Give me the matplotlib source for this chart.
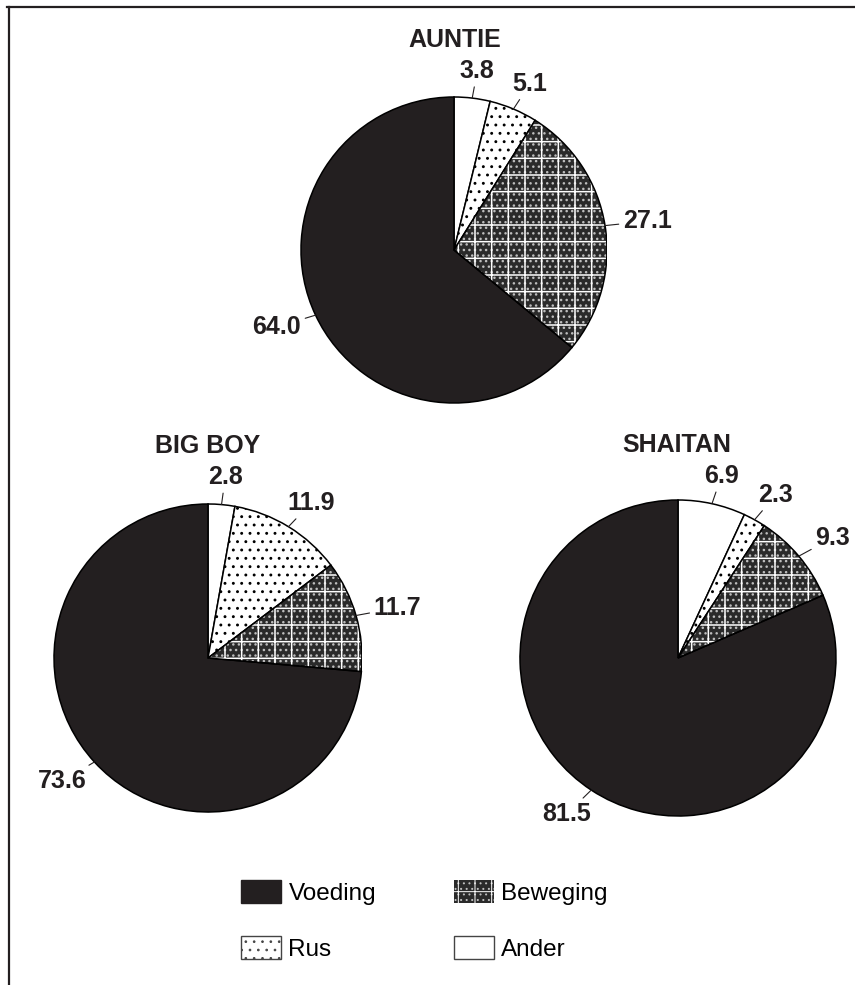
import matplotlib.pyplot as plt
import numpy as np
from matplotlib.patches import Wedge, Patch
from matplotlib.lines import Line2D

plt.rcParams['font.family'] = ['Liberation Sans', 'DejaVu Sans']
plt.rcParams['hatch.linewidth'] = 0.7

# slices run clockwise from 12 o'clock in this order
segments = ['Ander', 'Rus', 'Beweging', 'Voeding']
auntie = [3.8, 5.1, 27.1, 64.0]
big_boy = [2.8, 11.9, 11.7, 73.6]
shaitan = [6.9, 2.3, 9.3, 81.5]
titles = ['AUNTIE', 'BIG BOY', 'SHAITAN']
legend_order = ['Voeding', 'Rus', 'Beweging', 'Ander']

BLACK = '#231f20'
DARK = '#2a2a2a'
SPECK = '#bdbdbd'

W, H = 855, 985


def px_rect(cx, cy, r):
    return [(cx - r) / W, 1 - (cy + r) / H, 2 * r / W, 2 * r / H]


def hatch_lw(patch, lw):
    if hasattr(patch, 'set_hatch_linewidth'):
        patch.set_hatch_linewidth(lw)
    else:
        patch._hatch_linewidth = lw
    return patch


def style_wedge(ax, w, name):
    if name == 'Ander':
        w.set_facecolor('white')
    elif name == 'Rus':
        w.set_facecolor('white')
        w.set_hatch('..')
        hatch_lw(w, 0.9)
    elif name == 'Beweging':
        # speckled dark fill, white square grid on top, black outline last
        w.set_facecolor(DARK)
        w.set_hatch('...')
        w.set_edgecolor(SPECK)
        w.set_linewidth(0)
        hatch_lw(w, 1.0)
        ax.add_patch(hatch_lw(Wedge(w.center, w.r, w.theta1, w.theta2, fill=False,
                                    hatch='+', edgecolor='white', linewidth=0), 1.1))
        ax.add_patch(Wedge(w.center, w.r, w.theta1, w.theta2, fill=False,
                           edgecolor='black', linewidth=1.1))
    else:
        w.set_facecolor(BLACK)


def draw_pie(fig, rect, values, title, title_xy):
    ax = fig.add_axes(rect)
    wedges, _ = ax.pie(values, startangle=90, counterclock=False, radius=1,
                       wedgeprops=dict(edgecolor='black', linewidth=1.1))
    for w, name, v in zip(wedges, segments, values):
        style_wedge(ax, w, name)
        theta = np.deg2rad((w.theta1 + w.theta2) / 2)
        d = np.array([np.cos(theta), np.sin(theta)])
        pos = d * 1.15 + np.array([0.13 * d[0], 0.03 * d[1]])
        ax.annotate(f'{v:.1f}', xy=d, xytext=pos, ha='center', va='center',
                    fontsize=18, fontweight='bold', color=BLACK,
                    arrowprops=dict(arrowstyle='-', lw=0.8, color=BLACK,
                                    shrinkA=1, shrinkB=0))
    ax.set_xlim(-1, 1)
    ax.set_ylim(-1, 1)
    ax.set_aspect('equal')
    ax.axis('off')
    fig.text(title_xy[0] / W, 1 - title_xy[1] / H, title, ha='center', va='center',
             fontsize=18, fontweight='bold', color=BLACK)


fig = plt.figure(figsize=(8.55, 9.85), dpi=100)

draw_pie(fig, px_rect(454, 250, 153), auntie, titles[0], (455, 40))
draw_pie(fig, px_rect(208, 658, 154), big_boy, titles[1], (208, 446))
draw_pie(fig, px_rect(678, 658, 158), shaitan, titles[2], (677, 445))

handles = {
    'Voeding': Patch(facecolor=BLACK, edgecolor=BLACK),
    'Rus': hatch_lw(Patch(facecolor='white', edgecolor='#444444', hatch='..',
                          linewidth=1), 0.9),
    'Beweging': (hatch_lw(Patch(facecolor=DARK, edgecolor=SPECK, hatch='...',
                                linewidth=0), 1.0),
                 hatch_lw(Patch(fill=False, hatch='+', edgecolor='white',
                                linewidth=0), 1.1)),
    'Ander': Patch(facecolor='white', edgecolor='#444444', linewidth=1),
}
fig.legend([handles[n] for n in legend_order], legend_order, ncol=2, loc='upper left',
           bbox_to_anchor=(241 / W, 1 - 880 / H), frameon=False,
           fontsize=17.5, handlelength=1.65, handleheight=1.05,
           handletextpad=0.3, columnspacing=3.2, labelspacing=1.3,
           borderpad=0, borderaxespad=0)

# frame lines along the top and left edge
fig.add_artist(Line2D([7 / W, 1], [1 - 7 / H, 1 - 7 / H], color=BLACK, lw=1.6))
fig.add_artist(Line2D([9 / W, 9 / W], [0, 1 - 7 / H], color=BLACK, lw=1.6))

fig.savefig('out.png', dpi=100)
